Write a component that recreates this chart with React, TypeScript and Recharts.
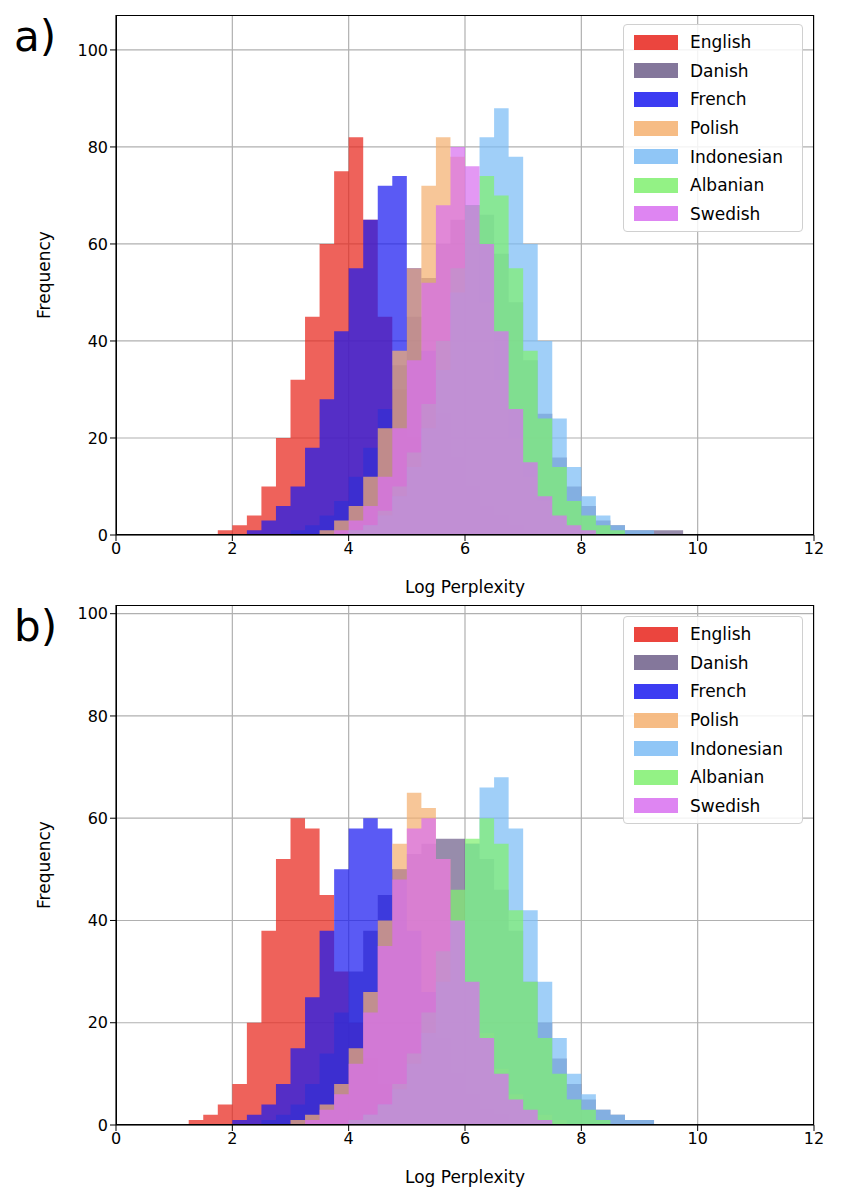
import { ComposedChart, Area, XAxis, YAxis, CartesianGrid } from "recharts";

// bin starts, width 0.25
const BINS = [
  1.0, 1.25, 1.5, 1.75, 2.0, 2.25, 2.5, 2.75, 3.0, 3.25, 3.5, 3.75, 4.0, 4.25, 4.5, 4.75, 5.0, 5.25, 5.5,
  5.75, 6.0, 6.25, 6.5, 6.75, 7.0, 7.25, 7.5, 7.75, 8.0, 8.25, 8.5, 8.75, 9.0, 9.25, 9.5, 9.75, 10.0, 10.25,
];

const LANGS = ["English", "Danish", "French", "Polish", "Indonesian", "Albanian", "Swedish"];
const COLORS: Record<string, string> = {
  English: "#e8251c",
  Danish: "#6f5f8a",
  French: "#1a1af0",
  Polish: "#f4b070",
  Indonesian: "#7cbcf5",
  Albanian: "#80f070",
  Swedish: "#d870f0",
};

// panel a
const A_ENGLISH = [0, 0, 0, 1, 2, 4, 10, 20, 32, 45, 60, 75, 82, 65, 45, 30, 20, 12, 8, 5, 3, 2, 1, 1];
const A_DANISH = [0, 0, 0, 0, 0, 0, 0, 0, 1, 2, 4, 7, 12, 18, 26, 35, 45, 53, 60, 65, 68, 66, 58, 48, 36, 25, 16, 10, 6, 3, 2, 1, 1, 1, 1];
const A_FRENCH = [0, 0, 0, 0, 0, 1, 3, 6, 10, 18, 28, 42, 55, 65, 72, 74, 55, 38, 25, 16, 10, 6, 4, 2, 1];
const A_POLISH = [0, 0, 0, 0, 0, 0, 0, 0, 0, 0, 1, 3, 6, 12, 22, 38, 55, 72, 82, 78, 65, 48, 32, 20, 12, 7, 4, 2, 1];
const A_INDONESIAN = [0, 0, 0, 0, 0, 0, 0, 0, 0, 0, 0, 0, 1, 2, 4, 8, 14, 22, 34, 50, 68, 82, 88, 78, 60, 40, 24, 14, 8, 4, 2, 1, 1];
const A_ALBANIAN = [0, 0, 0, 0, 0, 0, 0, 0, 0, 0, 0, 0, 1, 2, 5, 10, 17, 27, 40, 55, 68, 74, 70, 55, 38, 24, 14, 7, 4, 2, 1];
const A_SWEDISH = [0, 0, 0, 0, 0, 0, 0, 0, 0, 0, 0, 1, 3, 6, 12, 22, 36, 52, 68, 80, 76, 60, 42, 26, 15, 8, 4, 2, 1];

// panel b
const B_ENGLISH = [0, 1, 2, 4, 8, 20, 38, 52, 60, 58, 45, 30, 20, 13, 8, 5, 3, 2, 1, 1];
const B_DANISH = [0, 0, 0, 0, 0, 0, 1, 2, 4, 8, 14, 22, 30, 38, 45, 50, 53, 55, 56, 56, 55, 52, 46, 38, 28, 20, 13, 8, 5, 3, 2, 1, 1];
const B_FRENCH = [0, 0, 0, 0, 1, 2, 4, 8, 15, 25, 38, 50, 58, 60, 58, 50, 38, 26, 17, 10, 6, 3, 2, 1];
const B_POLISH = [0, 0, 0, 0, 0, 0, 0, 0, 1, 2, 4, 8, 15, 26, 40, 55, 65, 62, 52, 40, 28, 18, 11, 6, 3, 2, 1];
const B_INDONESIAN = [0, 0, 0, 0, 0, 0, 0, 0, 0, 0, 0, 0, 1, 2, 4, 7, 12, 18, 28, 40, 55, 66, 68, 58, 42, 28, 17, 10, 6, 3, 2, 1, 1];
const B_ALBANIAN = [0, 0, 0, 0, 0, 0, 0, 0, 0, 0, 0, 0, 1, 2, 4, 8, 14, 22, 34, 46, 56, 60, 55, 42, 28, 17, 10, 5, 3, 1];
const B_SWEDISH = [0, 0, 0, 0, 0, 0, 0, 0, 0, 1, 3, 6, 12, 22, 35, 48, 58, 60, 52, 40, 28, 17, 10, 5, 3, 1];

const X_TICKS = [0, 2, 4, 6, 8, 10, 12];

function buildRows(series: Record<string, number[]>) {
  return BINS.map((x, i) => {
    const row: Record<string, number> = { x };
    LANGS.forEach((l) => (row[l] = series[l][i] ?? 0));
    return row;
  });
}

const FONT = "DejaVu Sans, sans-serif";

function Legend({ top }: { top: number }) {
  return (
    <div
      style={{
        position: "absolute",
        left: 623,
        top,
        width: 180,
        border: "1px solid #d0d0d0",
        borderRadius: 4,
        background: "rgba(255,255,255,0.85)",
        padding: "3px 0 3px 10px",
        boxSizing: "border-box",
        fontFamily: FONT,
        fontSize: 17,
      }}
    >
      {LANGS.map((l) => (
        <div key={l} style={{ display: "flex", alignItems: "center", height: 28.6 }}>
          <span style={{ width: 44, height: 15, background: COLORS[l], opacity: 0.85, marginRight: 12 }} />
          <span>{l}</span>
        </div>
      ))}
    </div>
  );
}

function Panel({
  top,
  label,
  rows,
  yMax,
  yTicks,
  legendTop,
}: {
  top: number;
  label: string;
  rows: Record<string, number>[];
  yMax: number;
  yTicks: number[];
  legendTop: number;
}) {
  const tick = { fill: "#000", fontSize: 16, fontFamily: FONT };
  return (
    <div style={{ position: "absolute", left: 0, top, width: 860, height: 600 }}>
      <ComposedChart width={860} height={600} data={rows} margin={{ top: 15, right: 46, left: 0, bottom: 25 }}>
        <CartesianGrid stroke="#b0b0b0" strokeWidth={1.2} horizontalValues={yTicks} verticalValues={X_TICKS} />
        <XAxis
          dataKey="x"
          type="number"
          domain={[0, 12]}
          ticks={X_TICKS}
          tick={tick}
          tickLine={{ stroke: "#000" }}
          axisLine={{ stroke: "#000" }}
          height={40}
          label={{ value: "Log Perplexity", position: "insideBottom", offset: -18, fill: "#000", fontSize: 17, fontFamily: FONT }}
        />
        <YAxis
          type="number"
          domain={[0, yMax]}
          allowDataOverflow
          ticks={yTicks}
          tick={tick}
          tickLine={{ stroke: "#000" }}
          axisLine={{ stroke: "#000" }}
          width={116}
          label={{ value: "Frequency", angle: -90, position: "insideLeft", offset: 44, fill: "#000", fontSize: 17, fontFamily: FONT, style: { textAnchor: "middle" } }}
        />
        {LANGS.map((l) => (
          <Area
            key={l}
            dataKey={l}
            type="stepAfter"
            stroke="none"
            fill={COLORS[l]}
            fillOpacity={0.72}
            dot={false}
            activeDot={false}
            isAnimationActive={false}
          />
        ))}
      </ComposedChart>
      <div
        style={{
          position: "absolute",
          left: 116,
          top: 15,
          width: 698,
          height: 520,
          border: "1px solid #000",
          boxSizing: "border-box",
          pointerEvents: "none",
        }}
      />
      <div style={{ position: "absolute", left: 14, top: 12, fontSize: 42, fontFamily: FONT }}>{label}</div>
      <Legend top={legendTop} />
    </div>
  );
}

export default function App() {
  const a = buildRows({
    English: A_ENGLISH,
    Danish: A_DANISH,
    French: A_FRENCH,
    Polish: A_POLISH,
    Indonesian: A_INDONESIAN,
    Albanian: A_ALBANIAN,
    Swedish: A_SWEDISH,
  });
  const b = buildRows({
    English: B_ENGLISH,
    Danish: B_DANISH,
    French: B_FRENCH,
    Polish: B_POLISH,
    Indonesian: B_INDONESIAN,
    Albanian: B_ALBANIAN,
    Swedish: B_SWEDISH,
  });
  return (
    <div style={{ position: "absolute", left: 0, top: 0, width: 860, height: 1200, background: "#fff" }}>
      <Panel top={0} label="a)" rows={a} yMax={107.2} yTicks={[0, 20, 40, 60, 80, 100]} legendTop={24} />
      <Panel top={590} label="b)" rows={b} yMax={101.7} yTicks={[0, 20, 40, 60, 80, 100]} legendTop={26} />
    </div>
  );
}
